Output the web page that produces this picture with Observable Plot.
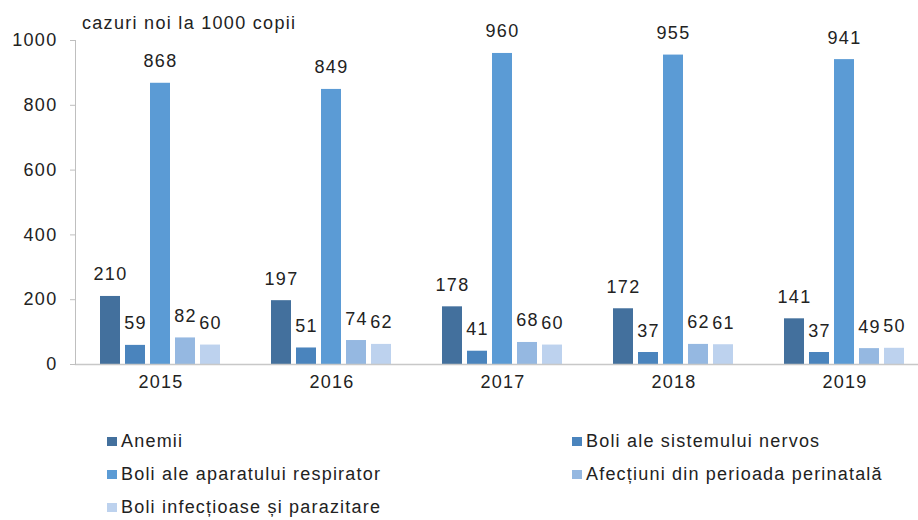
<!DOCTYPE html>
<html><head><meta charset="utf-8">
<script src="https://cdn.jsdelivr.net/npm/d3@7"></script>
<script src="https://cdn.jsdelivr.net/npm/@observablehq/plot@0.6"></script>
<style>
html,body{margin:0;padding:0;background:#fff;overflow:hidden;}
#wrap{position:relative;width:918px;height:520px;overflow:hidden;font-family:"Liberation Sans",Arial,sans-serif;color:#222;}
#chart{position:absolute;left:0;top:0;width:932px;}
#chart svg{max-width:none !important;}
#title{position:absolute;left:82px;top:13px;font-size:18px;line-height:20px;letter-spacing:1.3px;white-space:nowrap;}
.lg{position:absolute;display:flex;align-items:center;font-size:18px;line-height:20px;letter-spacing:1.2px;white-space:nowrap;}
.sw{width:10px;height:9px;margin-right:4px;flex:none;}
</style>
</head><body>
<div id="wrap">
  <div id="chart"></div>
  <div id="title">cazuri noi la 1000 copii</div>
  <div id="legend"></div>
</div>
<script>
const years = ["2015", "2016", "2017", "2018", "2019"];
const series = [
  "Anemii",
  "Boli ale sistemului nervos",
  "Boli ale aparatului respirator",
  "Afecțiuni din perioada perinatală",
  "Boli infecțioase și parazitare"
];
const anemii = [210, 197, 178, 172, 141];
const nervos = [59, 51, 41, 37, 37];
const respirator = [868, 849, 960, 955, 941];
const perinatal = [82, 74, 68, 62, 49];
const infectioase = [60, 62, 60, 61, 50];
const colors = ["#43709d", "#4a84bd", "#5b9bd5", "#95b8e1", "#bdd2ee"];
const yTicks = [0, 200, 400, 600, 800, 1000];

const valuesBySeries = [anemii, nervos, respirator, perinatal, infectioase];
const data = [];
years.forEach((yr, i) => {
  series.forEach((s, j) => {
    data.push({year: yr, series: s, value: valuesBySeries[j][i]});
  });
});

const chart = Plot.plot({
  width: 932,
  height: 400,
  marginLeft: 73,
  marginRight: 0,
  marginTop: 40,
  marginBottom: 36,
  style: {fontFamily: '"Liberation Sans", Arial, sans-serif', fontSize: "18px", color: "#222", letterSpacing: "1.3px", background: "#fff", maxWidth: "none"},
  fx: {domain: years, padding: 0},
  x: {domain: series, axis: null, paddingInner: 0.19, paddingOuter: 0.9},
  y: {domain: [0, 1000]},
  color: {domain: series, range: colors},
  marks: [
    Plot.axisY({ticks: yTicks, tickFormat: d => String(d), tickSize: 5, tickPadding: 13, stroke: "#bfbfbf", fill: "#222", label: null}),
    Plot.axisFx({anchor: "bottom", tickSize: 0, tickPadding: 11, label: null, fill: "#222"}),
    Plot.barY(data, {fx: "year", x: "series", y: "value", fill: "series"}),
    Plot.frame({anchor: "bottom", stroke: "#c8c8c8", strokeWidth: 1.5, facet: "super"}),
    Plot.frame({anchor: "left", stroke: "#bfbfbf", facet: "super"}),
    Plot.text(data, {fx: "year", x: "series", y: "value", text: d => String(d.value), dy: -16, lineAnchor: "bottom", fill: "#222", fontSize: 18})
  ]
});
document.getElementById("chart").appendChild(chart);

// legend
const legendPos = [
  {left: 107, top: 431},
  {left: 572, top: 431},
  {left: 107, top: 464},
  {left: 572, top: 464},
  {left: 107, top: 497}
];
const legend = document.getElementById("legend");
series.forEach((s, i) => {
  const item = document.createElement("div");
  item.className = "lg";
  item.style.left = legendPos[i].left + "px";
  item.style.top = legendPos[i].top + "px";
  const sw = document.createElement("span");
  sw.className = "sw";
  sw.style.background = colors[i];
  const tx = document.createElement("span");
  tx.textContent = s;
  item.appendChild(sw);
  item.appendChild(tx);
  legend.appendChild(item);
});
</script>
</body></html>
